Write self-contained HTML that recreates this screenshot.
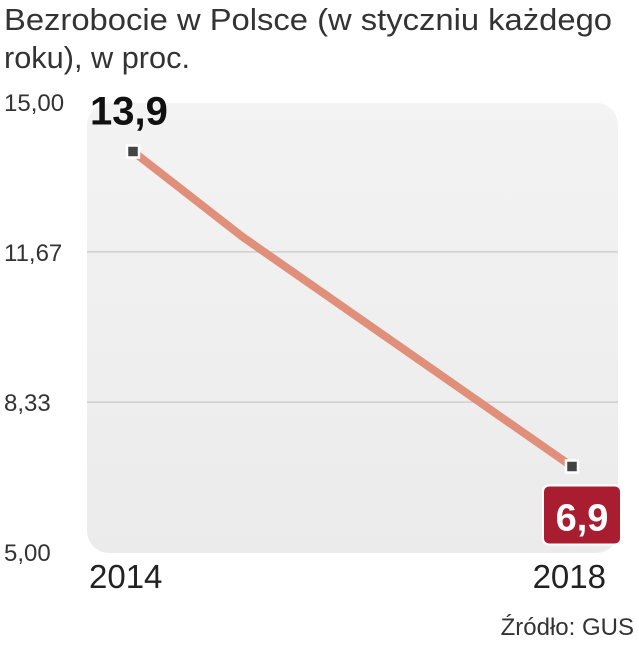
<!DOCTYPE html>
<html><head><meta charset="utf-8"><style>
html,body{margin:0;padding:0;background:#fff;}
body{width:639px;height:640px;overflow:hidden;font-family:"Liberation Sans",sans-serif;}
</style></head><body>
<svg width="639" height="640" xmlns="http://www.w3.org/2000/svg">
<defs>
<linearGradient id="bg" x1="0" y1="0" x2="0" y2="1">
<stop offset="0" stop-color="#f3f3f3"/><stop offset="1" stop-color="#ebebeb"/>
</linearGradient>
</defs>
<text x="4" y="30" font-size="31" fill="#333" font-family="Liberation Sans Narrow, Liberation Sans, sans-serif" textLength="608" lengthAdjust="spacingAndGlyphs">Bezrobocie w Polsce (w styczniu każdego</text>
<text x="4" y="68" font-size="31" fill="#333" textLength="186" lengthAdjust="spacingAndGlyphs">roku), w proc.</text>
<rect x="87" y="103" width="531" height="450" rx="22" fill="url(#bg)"/>
<g id="grid"></g>
<g id="yticks"></g>
<g id="series"></g>
<g id="xticks"></g>
<text x="634" y="635" text-anchor="end" font-size="24" fill="#333">Źródło: GUS</text>
</svg>
<script>
const years = [2014, 2015, 2016, 2017, 2018];
const values = [13.9, 12.0, 10.3, 8.6, 6.9];
const yTicks = [5.00, 8.33, 11.67, 15.00];
const yTickLabels = ["5,00", "8,33", "11,67", "15,00"];
const xLabels = ["2014", "2018"];
const valueLabels = ["13,9", "6,9"];

const NS = "http://www.w3.org/2000/svg";
const x = yr => 133 + (yr - years[0]) * (572 - 133) / (years[years.length-1] - years[0]);
const y = v => 552 - (v - 5) * 450 / 10;
function mk(tag, attrs, parent, text){const e=document.createElementNS(NS,tag);for(const k in attrs)e.setAttribute(k,attrs[k]);if(text!==undefined)e.textContent=text;parent.appendChild(e);return e;}

const grid=document.getElementById('grid'), yt=document.getElementById('yticks');
yTicks.forEach((t,i)=>{
  if(i>0&&i<yTicks.length-1){
    const l=mk('line',{x1:87,x2:618,y1:y(t),y2:y(t),stroke:'#cfcfcf','stroke-width':1.5},grid);
    
    
  }
  const tx=mk('text',{x:4,y:y(t)+9,'font-size':24,fill:'#333'},yt,yTickLabels[i]);
  
  
});

const s=document.getElementById('series');
const pts=years.map((yr,i)=>x(yr)+','+y(values[i])).join(' ');
const pl=mk('polyline',{points:pts,fill:'none',stroke:'#e0907a','stroke-width':8,'stroke-linejoin':'round'},s);


[0,years.length-1].forEach(i=>{
  const m=mk('rect',{x:x(years[i])-6,y:y(values[i])-6,width:12,height:12,fill:'#444',stroke:'#fff','stroke-width':2.5},s);
  
  
});
const first=mk('text',{x:x(years[0])-43,y:y(values[0])-27,'font-size':40,'font-weight':'bold',fill:'#111'},s,valueLabels[0]);


const li=years.length-1;
const box=mk('rect',{x:x(years[li])-29,y:y(values[li])+19,width:78,height:59,rx:6,fill:'#a81d30',stroke:'#fff','stroke-width':2},s);


const last=mk('text',{x:x(years[li])+10,y:y(values[li])+64,'text-anchor':'middle','font-size':38,'font-weight':'bold',fill:'#fff'},s,valueLabels[1]);



const xt=document.getElementById('xticks');
[[0,89,'start'],[1,606,'end']].forEach(([i,px,anc])=>{
  const t=mk('text',{x:px,y:588,'font-size':33,fill:'#222','text-anchor':anc},xt,xLabels[i]);
  
  
});
</script>
</body></html>
